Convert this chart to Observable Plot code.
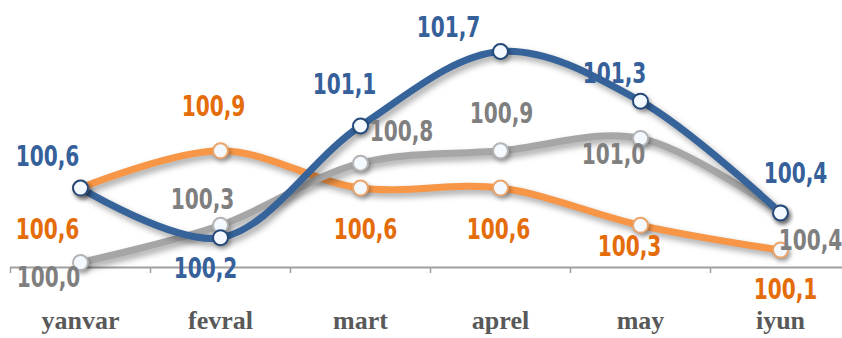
<!DOCTYPE html>
<html><head><meta charset="utf-8">
<script src="https://cdn.jsdelivr.net/npm/d3@7"></script>
<script src="https://cdn.jsdelivr.net/npm/@observablehq/plot@0.6"></script>
<style>
body{margin:0;background:#fff;}
#chart svg{overflow:hidden;}
g[aria-label="line"] path{filter: drop-shadow(3px 4px 3px rgba(0,0,0,0.35));}
g[aria-label="dot"] circle{filter: drop-shadow(2px 3px 2px rgba(0,0,0,0.3));}
</style></head><body><div id="chart"></div>
<script>
// ---- data ----
const months = ["yanvar", "fevral", "mart", "aprel", "may", "iyun"];
const blueValues   = [100.6, 100.2, 101.1, 101.7, 101.3, 100.4];
const orangeValues = [100.6, 100.9, 100.6, 100.6, 100.3, 100.1];
const grayValues   = [100.0, 100.3, 100.8, 100.9, 101.0, 100.4];

// ---- layout (label offsets in px, per point) ----
const blueLabelOffsets   = [[-33,-31],[-15,31],[-16,-41],[-52,-23],[-26,-27],[15,-39]];
const orangeLabelOffsets = [[-33,42],[-7,-44],[5,42],[-2,42],[-11,22],[5,40]];
const grayLabelOffsets   = [[-32,15],[-18,-25],[41,-31],[1,-37],[-27,17],[30,28]];

const series = [
  {values: orangeValues, offsets: orangeLabelOffsets, line: "#f79646", markStroke: "#eba46a", text: "#e46c0a"},
  {values: grayValues,   offsets: grayLabelOffsets,   line: "#a6a6a6", markStroke: "#b4b4b4", text: "#7f7f7f"},
  {values: blueValues,   offsets: blueLabelOffsets,   line: "#35639a", markStroke: "#24497a", text: "#35609a"}
];
const yDomain = [99.96, 101.7];
const fmt = v => v.toFixed(1).replace(".", ",");

const marks = [];
marks.push(Plot.ruleY([yDomain[0]], {x1: -0.5, x2: 5.5, stroke: "#a0a0a0", strokeWidth: 2}));
marks.push(Plot.axisX({ticks: d3.range(-0.5, 6, 1), tickSize: 6, tickFormat: () => "", label: null, stroke: "#a0a0a0", strokeWidth: 1.5}));
marks.push(Plot.axisX({ticks: d3.range(0, 6), tickSize: 0, tickPadding: 43, tickFormat: i => months[i], label: null,
  fontSize: 26, fontWeight: "bold", fontFamily: "Liberation Serif, Times New Roman, serif", fill: "#595959"}));

for (const s of series) {
  const rows = s.values.map((v, i) => ({i, v}));
  marks.push(Plot.line(rows, {x: "i", y: "v", stroke: s.line, strokeWidth: 7, curve: "catmull-rom"}));
}
for (const s of series) {
  const rows = s.values.map((v, i) => ({i, v}));
  marks.push(Plot.dot(rows, {x: "i", y: "v", r: 7.5, fill: "#f3f9fe", stroke: s.markStroke, strokeWidth: 2}));
}
for (const s of series) {
  s.values.forEach((v, i) => {
    marks.push(Plot.text([{i, v}], {x: "i", y: "v", text: d => fmt(d.v), dx: s.offsets[i][0], dy: s.offsets[i][1],
      fill: s.text, fontSize: 28, fontWeight: "bold", textAnchor: "middle", lineAnchor: "middle",
      fontFamily: "DejaVu Sans Condensed, Liberation Sans Narrow, Arial Narrow, sans-serif"}));
  });
}

const chart = Plot.plot({
  width: 842, height: 338,
  marginTop: 51, marginBottom: 71, marginLeft: 0, marginRight: 0,
  x: {type: "linear", domain: [-0.5, 5.5], range: [10, 850], axis: null},
  y: {domain: yDomain, range: [267, 51], axis: null},
  style: {background: "#fff", overflow: "hidden"},
  marks
});
// condense the value labels horizontally
chart.querySelectorAll('g[aria-label="text"] text').forEach(t => {
  const tr = t.getAttribute("transform") || "";
  t.setAttribute("transform", tr + " scale(0.8,1)");
});
document.getElementById("chart").appendChild(chart);
</script></body></html>
